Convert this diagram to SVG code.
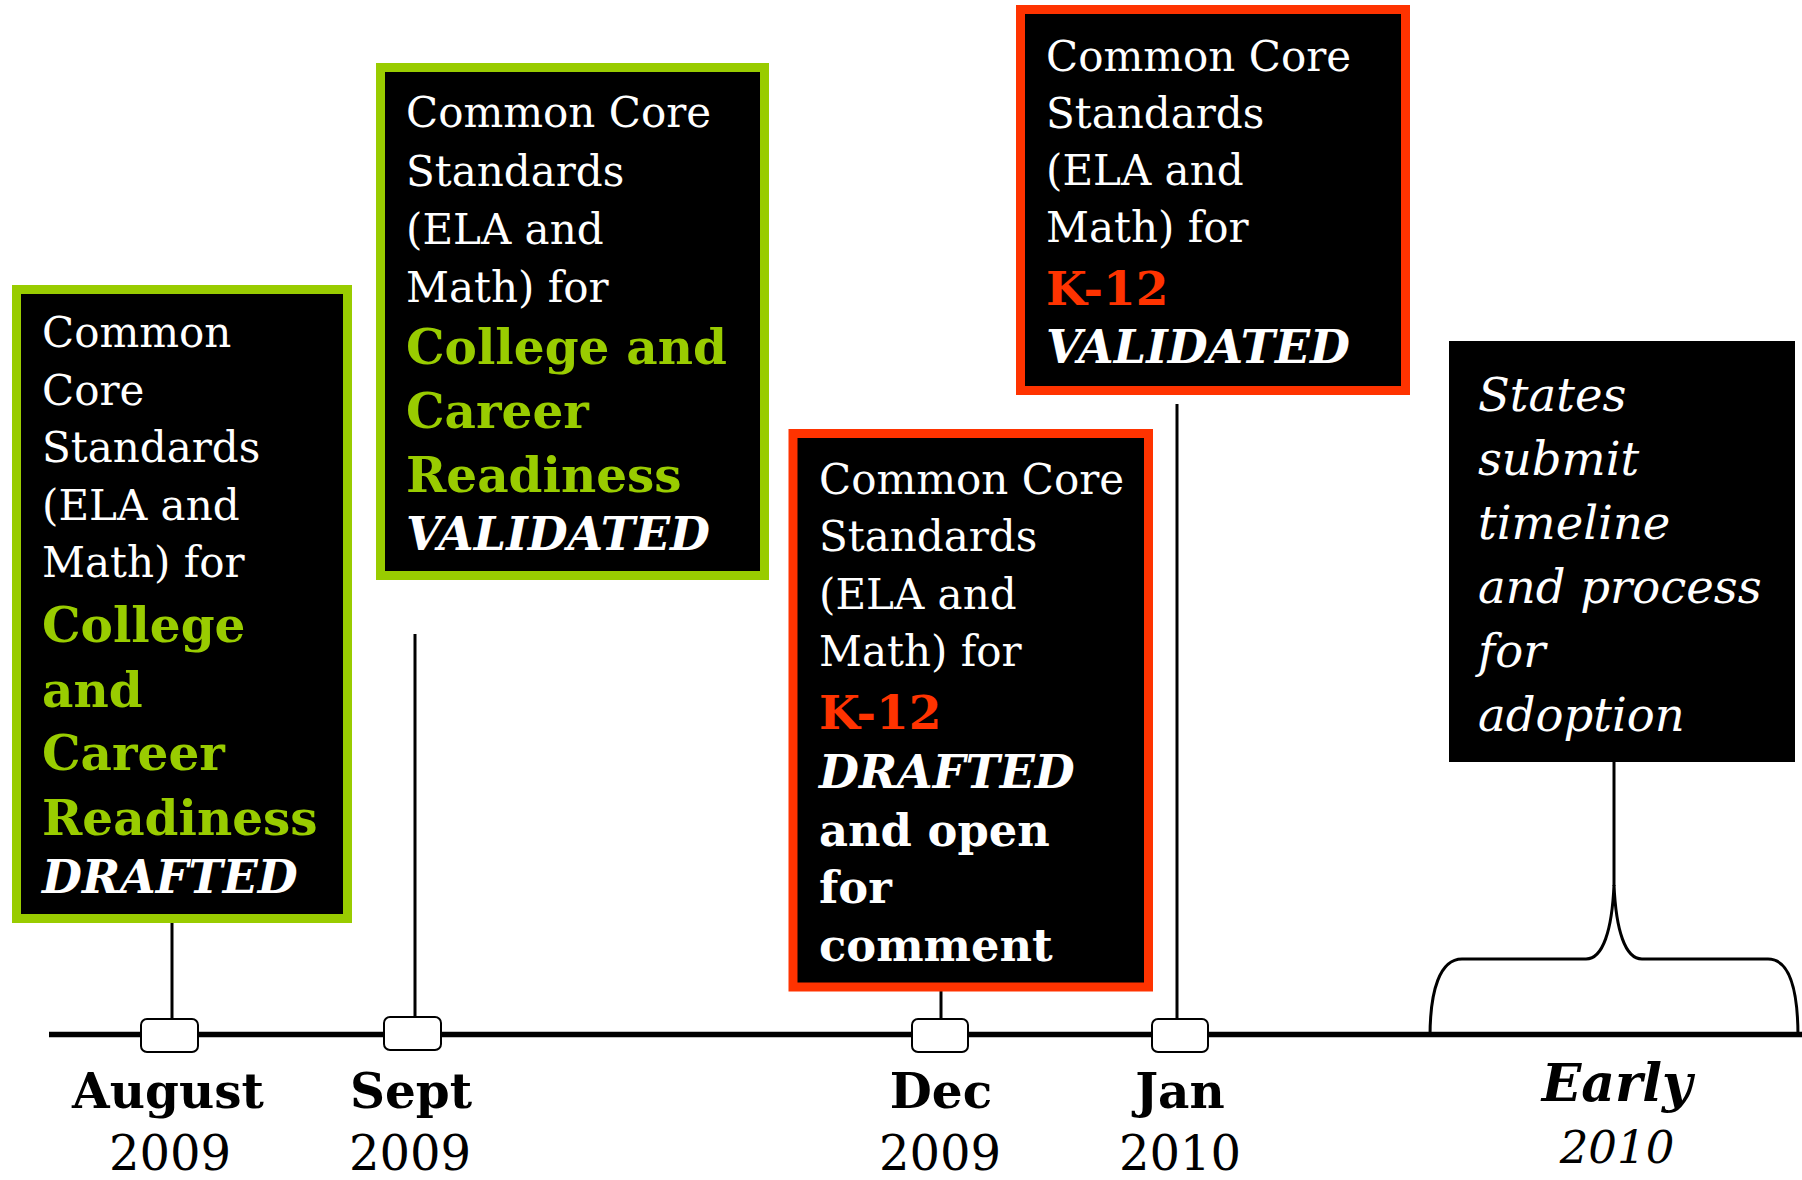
<svg xmlns="http://www.w3.org/2000/svg" width="1802" height="1180" viewBox="0 0 1802 1180">
<style>
text{font-family:"DejaVu Serif","Liberation Serif",serif;fill:#fff}
.r{font-size:42px}
.g{font-size:48.5px;font-weight:bold;fill:#99CC00}
.k{font-size:47px;font-weight:bold;fill:#FF3300}
.bi{font-size:46px;font-weight:bold;font-style:italic}
.b{font-size:44.8px;font-weight:bold}
.it{font-size:46.5px;font-style:italic}
.mon{font-size:48.5px;font-weight:bold;fill:#000;text-anchor:middle}
.yr{font-size:48px;fill:#000;text-anchor:middle}
.ebi{font-size:52px;font-weight:bold;font-style:italic;fill:#000;text-anchor:middle}
.eyr{font-size:45px;font-style:italic;fill:#000;text-anchor:middle}
.gbox{fill:#000;stroke:#99CC00;stroke-width:9}
.rbox{fill:#000;stroke:#FF3300;stroke-width:9}
.ln{stroke:#000;stroke-width:3;fill:none}
.tick{fill:#fff;stroke:#000;stroke-width:2}
</style>
<g id="connectors">
<line class="ln" x1="172" y1="923" x2="172" y2="1020"/>
<line class="ln" x1="415" y1="634" x2="415" y2="1018"/>
<line class="ln" x1="941" y1="991" x2="941" y2="1020"/>
<line class="ln" x1="1177" y1="404" x2="1177" y2="1020"/>
<line class="ln" x1="1614" y1="762" x2="1614" y2="886"/>
<path class="ln" d="M1430,1037 C1430,990 1440,959 1462,959 L1586,959 C1603,959 1612,930 1614,885 C1616,930 1625,959 1642,959 L1768,959 C1790,959 1798,990 1798,1037"/>
<line x1="49" y1="1034.5" x2="1802" y2="1034.5" stroke="#000" stroke-width="5.5"/>
<rect class="tick" x="141" y="1019" width="57" height="33" rx="6"/>
<rect class="tick" x="384" y="1017" width="57" height="33" rx="6"/>
<rect class="tick" x="912" y="1019" width="56" height="33" rx="6"/>
<rect class="tick" x="1152" y="1019" width="56" height="33" rx="6"/>
</g>
<g id="node-aug">
<rect class="gbox" x="16.5" y="289.5" width="331" height="629"/>
<text class="r" x="42" y="347">Common</text>
<text class="r" x="42" y="404.5">Core</text>
<text class="r" x="42" y="462">Standards</text>
<text class="r" x="42" y="519.5">(ELA and</text>
<text class="r" x="42" y="577">Math) for</text>
<text class="g" x="42" y="642">College</text>
<text class="g" x="42" y="706.5">and</text>
<text class="g" x="42" y="770">Career</text>
<text class="g" x="42" y="835">Readiness</text>
<text class="bi" x="42" y="893">DRAFTED</text>
</g>
<g id="node-sept">
<rect class="gbox" x="380.5" y="67.5" width="384" height="508"/>
<text class="r" x="406" y="127">Common Core</text>
<text class="r" x="406" y="186">Standards</text>
<text class="r" x="406" y="244">(ELA and</text>
<text class="r" x="406" y="302">Math) for</text>
<text class="g" x="406" y="364">College and</text>
<text class="g" x="406" y="428">Career</text>
<text class="g" x="406" y="492">Readiness</text>
<text class="bi" x="406" y="550">VALIDATED</text>
</g>
<g id="node-dec">
<rect class="rbox" x="793" y="433.5" width="355.5" height="553.5"/>
<text class="r" x="819" y="494">Common Core</text>
<text class="r" x="819" y="551">Standards</text>
<text class="r" x="819" y="609">(ELA and</text>
<text class="r" x="819" y="666">Math) for</text>
<text class="k" x="819" y="729">K-12</text>
<text class="bi" x="819" y="788">DRAFTED</text>
<text class="b" x="819" y="845.5">and open</text>
<text class="b" x="819" y="903">for</text>
<text class="b" x="819" y="961">comment</text>
</g>
<g id="node-jan">
<rect class="rbox" x="1020.5" y="9.5" width="385" height="381"/>
<text class="r" x="1046" y="71">Common Core</text>
<text class="r" x="1046" y="128">Standards</text>
<text class="r" x="1046" y="185">(ELA and</text>
<text class="r" x="1046" y="242">Math) for</text>
<text class="k" x="1046" y="305">K-12</text>
<text class="bi" x="1046" y="363">VALIDATED</text>
</g>
<g id="node-early">
<rect x="1449" y="341" width="346" height="421" fill="#000"/>
<text class="it" x="1478" y="411">States</text>
<text class="it" x="1478" y="475">submit</text>
<text class="it" x="1478" y="539">timeline</text>
<text class="it" x="1478" y="603">and process</text>
<text class="it" x="1478" y="667">for</text>
<text class="it" x="1478" y="731">adoption</text>
</g>
<g id="labels">
<text class="mon" x="168" y="1108">August</text>
<text class="yr" x="170" y="1170">2009</text>
<text class="mon" x="411" y="1108">Sept</text>
<text class="yr" x="410" y="1170">2009</text>
<text class="mon" x="941" y="1108">Dec</text>
<text class="yr" x="940" y="1170">2009</text>
<text class="mon" x="1180" y="1108">Jan</text>
<text class="yr" x="1180" y="1170">2010</text>
<text class="ebi" x="1617" y="1101">Early</text>
<text class="eyr" x="1617" y="1163">2010</text>
</g>
</svg>
